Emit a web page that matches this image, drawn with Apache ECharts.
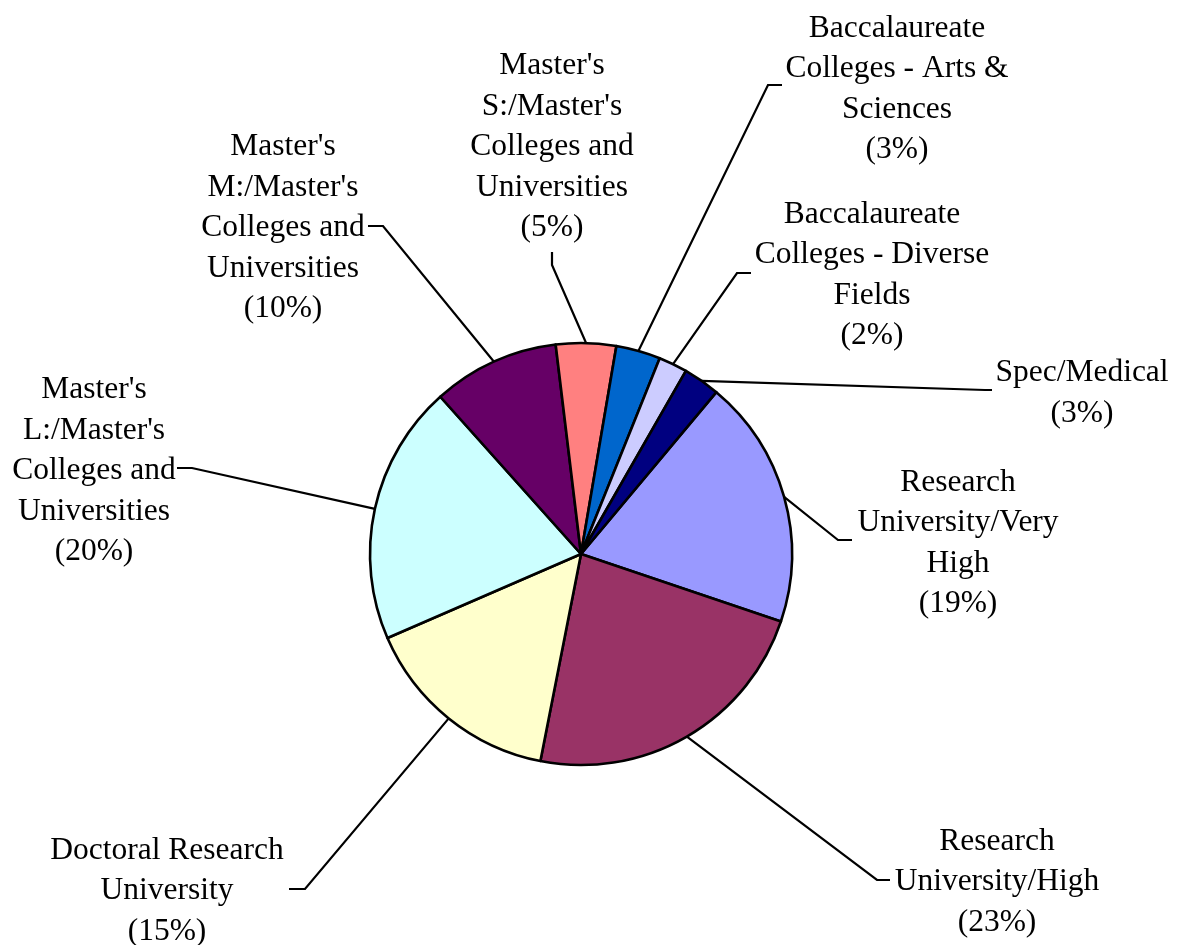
<!DOCTYPE html>
<html>
<head>
<meta charset="utf-8">
<script src="https://cdn.jsdelivr.net/npm/echarts@6/dist/echarts.min.js"></script>
<style>
  html, body { margin: 0; padding: 0; background: #fff; }
  #chart { width: 1189px; height: 945px; }
</style>
</head>
<body>
<div id="chart"></div>
<script>
// categories, clockwise from the Spec/Medical | Very High boundary
var categories = [
    'Research University/Very High',
    'Research University/High',
    'Doctoral Research University',
    "Master's L:/Master's Colleges and Universities",
    "Master's M:/Master's Colleges and Universities",
    "Master's S:/Master's Colleges and Universities",
    'Baccalaureate Colleges - Arts & Sciences',
    'Baccalaureate Colleges - Diverse Fields',
    'Spec/Medical'
];
// share of institutions
var values = [19.1, 22.9, 15.4, 19.9, 9.7, 4.6, 3.4, 2.2, 2.8];
var colors = ['#9999FF', '#993366', '#FFFFCC', '#CCFFFF', '#660066', '#FF8080', '#0066CC', '#CCCCFF', '#000080'];

// wrapped label text, as in the original
var labelText = [
    'Research\nUniversity/Very\nHigh',
    'Research\nUniversity/High',
    'Doctoral Research\nUniversity',
    "Master's\nL:/Master's\nColleges and\nUniversities",
    "Master's\nM:/Master's\nColleges and\nUniversities",
    "Master's\nS:/Master's\nColleges and\nUniversities",
    'Baccalaureate\nColleges - Arts &\nSciences',
    'Baccalaureate\nColleges - Diverse\nFields',
    'Spec/Medical'
];

// label placement (centre of text block) and leader elbows
var labelPos = [[958, 543], [997, 882], [167, 891], [94, 471], [283, 228], [552, 147], [897, 89], [872, 275], [1082, 393]];
var elbowPt = [[838, 540], [877, 880], [305, 889], [192, 468], [383, 226], [552, 265], [768, 85], [737, 273], [985, 390]];
var endPt = [[852, 540], [890, 880], [289, 889], [177, 468], [368, 226], [552, 252], [782, 85], [751, 273], [992, 390]];

var dom = document.getElementById('chart');
var myChart = echarts.init(dom);

var pieData = [];
for (var i = 0; i < categories.length; i++) {
    pieData.push({ name: categories[i], value: values[i], itemStyle: { color: colors[i] } });
}

var option = {
    backgroundColor: '#ffffff',
    animation: false,
    series: [
        {
            type: 'pie',
            center: [581, 554],
            radius: 211,
            startAngle: 50.1,
            clockwise: true,
            avoidLabelOverlap: false,
            itemStyle: {
                borderColor: '#000',
                borderWidth: 2.6
            },
            label: {
                show: true,
                position: 'outside',
                fontFamily: '"Liberation Serif", "Times New Roman", serif',
                fontSize: 31.5,
                lineHeight: 40.5,
                color: '#000',
                align: 'center',
                formatter: function (p) {
                    return labelText[p.dataIndex] + '\n(' + Math.round(p.percent) + '%)';
                }
            },
            labelLine: {
                show: true,
                length: 20,
                length2: 10,
                lineStyle: { color: '#000', width: 2.2 }
            },
            labelLayout: function (params) {
                var i = params.dataIndex;
                var start = params.labelLinePoints ? params.labelLinePoints[0] : elbowPt[i];
                return {
                    x: labelPos[i][0],
                    y: labelPos[i][1],
                    align: 'center',
                    verticalAlign: 'middle',
                    labelLinePoints: [start, elbowPt[i], endPt[i]]
                };
            },
            emphasis: { disabled: true },
            data: pieData
        }
    ]
};

myChart.setOption(option);
</script>
</body>
</html>
